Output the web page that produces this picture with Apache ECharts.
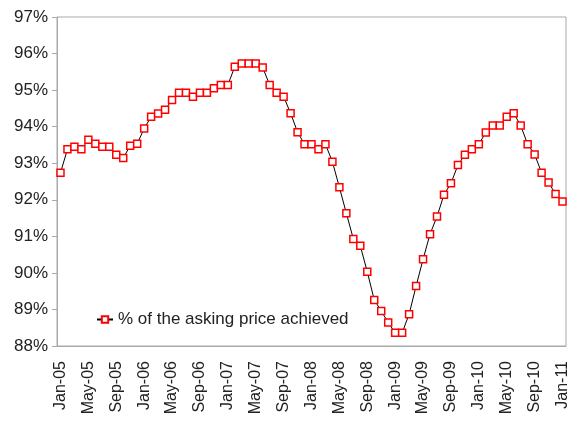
<!DOCTYPE html>
<html>
<head>
<meta charset="utf-8">
<script src="https://cdn.jsdelivr.net/npm/echarts@6/dist/echarts.min.js"></script>
<style>
  html, body { margin: 0; padding: 0; background: #fff; }
  #chart { width: 576px; height: 426px; }
</style>
</head>
<body>
<div id="chart"></div>
<script>
// monthly categories Jan-05 .. Jan-11
var months = ['Jan', 'Feb', 'Mar', 'Apr', 'May', 'Jun', 'Jul', 'Aug', 'Sep', 'Oct', 'Nov', 'Dec'];
var categories = [];
for (var y = 5; y <= 11; y++) {
    for (var m = 0; m < 12; m++) {
        if (y === 11 && m > 0) break;
        categories.push(months[m] + '-' + (y < 10 ? '0' + y : y));
    }
}

// % of the asking price achieved
var askingPct = [
    92.74, 93.38, 93.45, 93.38, 93.64, 93.53, 93.45, 93.45, 93.23, 93.14, 93.48, 93.53,
    93.95, 94.27, 94.36, 94.46, 94.73, 94.93, 94.93, 94.82, 94.93, 94.93, 95.05, 95.14,
    95.14, 95.64, 95.73, 95.73, 95.73, 95.62, 95.14, 94.93, 94.82, 94.37, 93.85, 93.52,
    93.52, 93.38, 93.52, 93.04, 92.34, 91.63, 90.93, 90.74, 90.03, 89.26, 88.96, 88.64,
    88.36, 88.36, 88.87, 89.64, 90.37, 91.06, 91.54, 92.14, 92.45, 92.95, 93.23, 93.38,
    93.52, 93.84, 94.03, 94.03, 94.27, 94.37, 94.03, 93.52, 93.24, 92.74, 92.47, 92.16,
    91.95
];

var yMin = 88, yMax = 97;

var myChart = echarts.init(document.getElementById('chart'));

var font = 'Liberation Sans, Arial, sans-serif';

var option = {
    animation: false,
    textStyle: { fontFamily: font, color: '#000' },
    grid: {
        left: 57,
        right: 10,
        top: 17,
        bottom: 80,
        show: true,
        borderColor: '#aaa',
        borderWidth: 1
    },
    legend: {
        data: [{ name: '% of the asking price achieved' }],
        left: 91,
        top: 306,
        itemWidth: 16,
        itemHeight: 8,
        textStyle: { fontSize: 17, color: '#222', fontFamily: font }
    },
    xAxis: {
        type: 'category',
        data: categories,
        boundaryGap: true,
        axisLine: { lineStyle: { color: '#aaa', width: 1 } },
        axisTick: { interval: 3, length: 5, lineStyle: { color: '#aaa' } },
        axisLabel: {
            interval: 3,
            rotate: 90,
            margin: 15,
            fontSize: 16,
            color: '#222'
        },
        splitLine: { show: false }
    },
    yAxis: {
        type: 'value',
        min: yMin,
        max: yMax,
        interval: 1,
        axisLine: { show: true, lineStyle: { color: '#aaa', width: 1 } },
        axisTick: { show: true, length: 5, lineStyle: { color: '#aaa' } },
        axisLabel: {
            formatter: '{value}%',
            fontSize: 17,
            margin: 9,
            color: '#222'
        },
        splitLine: { show: false }
    },
    series: [{
        name: '% of the asking price achieved',
        type: 'line',
        data: askingPct,
        symbol: 'rect',
        symbolSize: 7,
        showAllSymbol: true,
        lineStyle: { color: '#000', width: 1 },
        itemStyle: { color: '#fff', borderColor: '#ff0000', borderWidth: 1.5 }
    }]
};

myChart.setOption(option);
</script>
</body>
</html>
